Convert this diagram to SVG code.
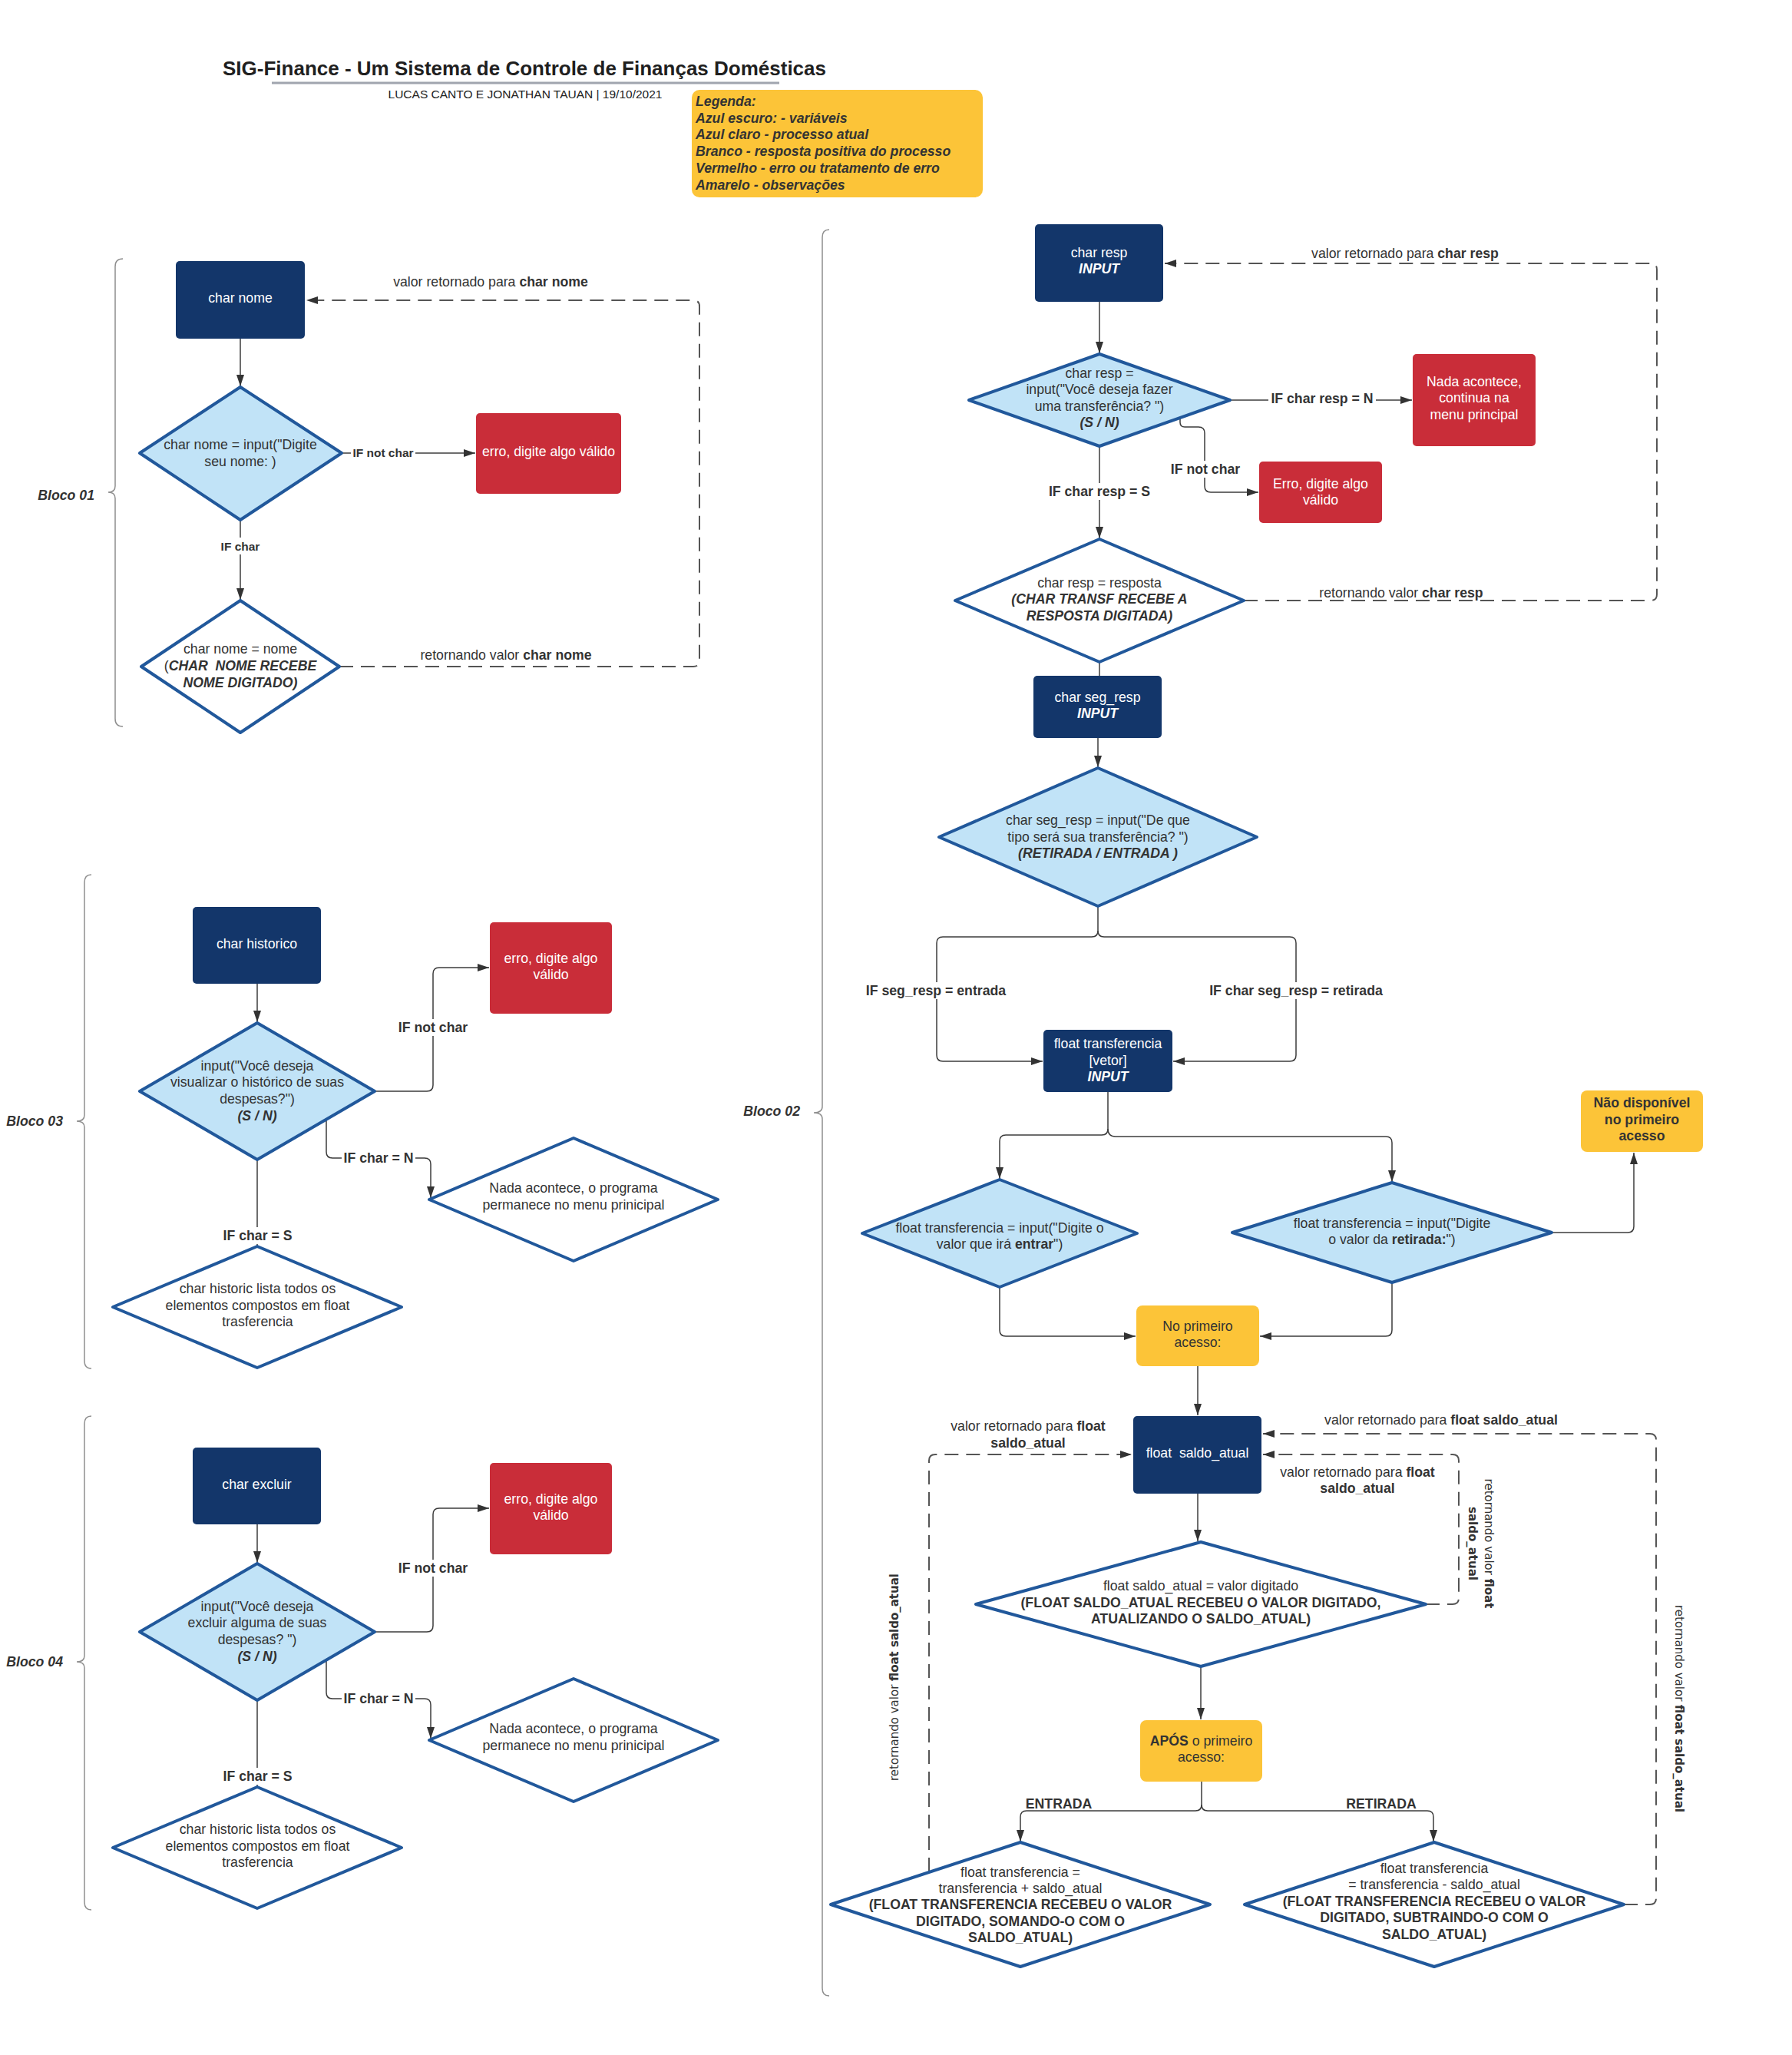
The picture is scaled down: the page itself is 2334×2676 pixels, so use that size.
<svg xmlns="http://www.w3.org/2000/svg" width="2334" height="2676" viewBox="0 0 2334 2676">
<defs>
<style>
.t{font-family:"Liberation Sans",Arial,sans-serif;font-size:17.7px;fill:#333;text-anchor:middle}
.w{fill:#fff}
.b{font-weight:bold}
.bi{font-weight:bold;font-style:italic}
.s{font-size:15.5px}
.rot{font-family:"DejaVu Sans",Verdana,sans-serif;font-size:15px;fill:#333;text-anchor:middle}
.blk{fill:#13366a}
.red{fill:#c92d39}
.yel{fill:#fcc438}
.dia{fill:#c1e3f7;stroke:#21589b;stroke-width:4;stroke-linejoin:round}
.diaw{fill:#fff;stroke:#21589b;stroke-width:4;stroke-linejoin:round}
.ln{fill:none;stroke:#3c3c3c;stroke-width:1.5}
.dash{fill:none;stroke:#555;stroke-width:2;stroke-dasharray:18 10}
.brace{fill:none;stroke:#8f8f8f;stroke-width:1.5}
.bg{fill:#fff}
</style>
<marker id="ar" markerUnits="userSpaceOnUse" markerWidth="15" markerHeight="10" refX="15" refY="5" orient="auto">
<path d="M0,0 L15,5 L0,10 z" fill="#333"/>
</marker>
</defs>
<rect width="2334" height="2676" fill="#fff"/>

<g id="header">
<text x="683" y="98" class="t b" style="font-size:26px;fill:#1f1f1f">SIG-Finance - Um Sistema de Controle de Finanças Domésticas</text>
<line x1="354" y1="108" x2="1015" y2="108" stroke="#a0a5ae" stroke-width="3"/>
<text x="684" y="128" class="t" style="font-size:15.5px;fill:#222">LUCAS CANTO E JONATHAN TAUAN  |  19/10/2021</text>
</g>

<g id="legenda">
<rect x="901" y="117" width="379" height="140" rx="10" class="yel"/>
<text class="t bi" style="text-anchor:start">
<tspan x="906" y="138">Legenda:</tspan>
<tspan x="906" y="159.7">Azul escuro: - variáveis</tspan>
<tspan x="906" y="181.4">Azul claro - processo atual</tspan>
<tspan x="906" y="203.1">Branco - resposta positiva do processo</tspan>
<tspan x="906" y="224.8">Vermelho - erro ou tratamento de erro</tspan>
<tspan x="906" y="246.5">Amarelo - observações</tspan>
</text>
</g>

<g id="braces">
<path class="brace" d="M160,337 Q150,337 150,347 V633 Q150,641 141,641 Q150,641 150,649 V936 Q150,946 160,946"/>
<path class="brace" d="M119,1139 Q110,1139 110,1149 V1452 Q110,1460 100,1460 Q110,1460 110,1468 V1772 Q110,1782 119,1782"/>
<path class="brace" d="M119,1844 Q110,1844 110,1854 V2156 Q110,2164 100,2164 Q110,2164 110,2172 V2477 Q110,2487 119,2487"/>
<path class="brace" d="M1080,299 Q1071,299 1071,309 V1441 Q1071,1449 1060,1449 Q1071,1449 1071,1457 V2589 Q1071,2599 1080,2599"/>
<text x="123" y="651" class="t bi" style="text-anchor:end">Bloco 01</text>
<text x="82" y="1466" class="t bi" style="text-anchor:end">Bloco 03</text>
<text x="82" y="2170" class="t bi" style="text-anchor:end">Bloco 04</text>
<text x="1042" y="1453" class="t bi" style="text-anchor:end">Bloco 02</text>
</g>

<g id="connectors">
<!-- Bloco 01 -->
<path class="ln" d="M313,441 V503" marker-end="url(#ar)"/>
<path class="ln" d="M445,590 H619" marker-end="url(#ar)"/>
<path class="ln" d="M313,677 V781" marker-end="url(#ar)"/>
<path class="dash" d="M442,868 H903 Q911,868 911,860 V399 Q911,391 903,391 H399" marker-end="url(#ar)"/>
<!-- Bloco 03 -->
<path class="ln" d="M335,1281 V1331" marker-end="url(#ar)"/>
<path class="ln" d="M488,1421 H556 Q564,1421 564,1413 V1268 Q564,1260 572,1260 H637" marker-end="url(#ar)"/>
<path class="ln" d="M425,1458 V1500 Q425,1508 433,1508 H553 Q561,1508 561,1516 V1560" marker-end="url(#ar)"/>
<path class="ln" d="M335,1510 V1623"/>
<!-- Bloco 04 -->
<path class="ln" d="M335,1985 V2035" marker-end="url(#ar)"/>
<path class="ln" d="M488,2125 H556 Q564,2125 564,2117 V1972 Q564,1964 572,1964 H637" marker-end="url(#ar)"/>
<path class="ln" d="M425,2162 V2204 Q425,2212 433,2212 H553 Q561,2212 561,2220 V2264" marker-end="url(#ar)"/>
<path class="ln" d="M335,2214 V2327"/>
<!-- Bloco 02 -->
<path class="ln" d="M1432,393 V460" marker-end="url(#ar)"/>
<path class="ln" d="M1602,521 H1839" marker-end="url(#ar)"/>
<path class="ln" d="M1537,544 V550 Q1537,556 1543,556 H1561 Q1569,556 1569,564 V633 Q1569,641 1577,641 H1639" marker-end="url(#ar)"/>
<path class="ln" d="M1432,581 V701" marker-end="url(#ar)"/>
<path class="dash" d="M1620,782 H2150 Q2158,782 2158,774 V351 Q2158,343 2150,343 H1517" marker-end="url(#ar)"/>
<path class="ln" d="M1432,862 V880"/>
<path class="ln" d="M1430,961 V999" marker-end="url(#ar)"/>
<path class="ln" d="M1430,1180 V1212 Q1430,1220 1422,1220 H1228 Q1220,1220 1220,1228 V1374 Q1220,1382 1228,1382 H1358" marker-end="url(#ar)"/>
<path class="ln" d="M1430,1212 Q1430,1220 1438,1220 H1680 Q1688,1220 1688,1228 V1374 Q1688,1382 1680,1382 H1528" marker-end="url(#ar)"/>
<path class="ln" d="M1443,1422 V1470 Q1443,1478 1435,1478 H1310 Q1302,1478 1302,1486 V1535" marker-end="url(#ar)"/>
<path class="ln" d="M1443,1470 Q1443,1480 1453,1480 H1805 Q1813,1480 1813,1488 V1539" marker-end="url(#ar)"/>
<path class="ln" d="M2021,1605 H2120 Q2128,1605 2128,1597 V1501" marker-end="url(#ar)"/>
<path class="ln" d="M1302,1676 V1732 Q1302,1740 1310,1740 H1479" marker-end="url(#ar)"/>
<path class="ln" d="M1813,1670 V1732 Q1813,1740 1805,1740 H1641" marker-end="url(#ar)"/>
<path class="ln" d="M1560,1779 V1843" marker-end="url(#ar)"/>
<path class="ln" d="M1560,1945 V2007" marker-end="url(#ar)"/>
<path class="ln" d="M1564,2170 V2239" marker-end="url(#ar)"/>
<path class="ln" d="M1565,2320 V2350 Q1565,2358 1557,2358 H1337 Q1329,2358 1329,2366 V2398" marker-end="url(#ar)"/>
<path class="ln" d="M1565,2350 Q1565,2358 1573,2358 H1859 Q1867,2358 1867,2366 V2398" marker-end="url(#ar)"/>
<path class="dash" d="M1210,2437 V1902 Q1210,1894 1218,1894 H1474" marker-end="url(#ar)"/>
<path class="dash" d="M1857,2089 H1892 Q1900,2089 1900,2081 V1902 Q1900,1894 1892,1894 H1645" marker-end="url(#ar)"/>
<path class="dash" d="M2115,2480 H2149 Q2157,2480 2157,2472 V1875 Q2157,1867 2149,1867 H1645" marker-end="url(#ar)"/>
</g>

<g id="connector-labels">
<rect x="457" y="580" width="84" height="20" class="bg"/>
<text x="499" y="594.5" class="t b s">IF not char</text>
<rect x="289" y="700" width="48" height="22" class="bg"/>
<text x="313" y="716.5" class="t b s">IF char</text>
<text x="639" y="373" class="t">valor retornado para <tspan class="b">char nome</tspan></text>
<text x="659" y="859" class="t">retornando valor <tspan class="b">char nome</tspan></text>

<rect x="518" y="1327" width="92" height="22" class="bg"/>
<text x="564" y="1344" class="t b">IF not char</text>
<rect x="445" y="1497" width="96" height="22" class="bg"/>
<text x="493" y="1514" class="t b">IF char = N</text>
<rect x="290" y="1598" width="92" height="22" class="bg"/>
<text x="335.5" y="1615" class="t b">IF char = S</text>

<rect x="518" y="2031" width="92" height="22" class="bg"/>
<text x="564" y="2048" class="t b">IF not char</text>
<rect x="445" y="2201" width="96" height="22" class="bg"/>
<text x="493" y="2218" class="t b">IF char = N</text>
<rect x="290" y="2302" width="92" height="22" class="bg"/>
<text x="335.5" y="2319" class="t b">IF char = S</text>

<rect x="1652" y="508" width="140" height="22" class="bg"/>
<text x="1722" y="525" class="t b">IF char resp = N</text>
<rect x="1524" y="600" width="92" height="22" class="bg"/>
<text x="1570" y="617" class="t b">IF not char</text>
<rect x="1362" y="629" width="142" height="22" class="bg"/>
<text x="1432" y="646" class="t b">IF char resp = S</text>
<text x="1830" y="336" class="t">valor retornado para <tspan class="b">char resp</tspan></text>
<text x="1825" y="778" class="t">retornando valor <tspan class="b">char resp</tspan></text>
<rect x="1126" y="1279" width="186" height="22" class="bg"/>
<text x="1219" y="1296" class="t b">IF seg_resp = entrada</text>
<rect x="1571" y="1279" width="234" height="22" class="bg"/>
<text x="1688" y="1296" class="t b">IF char seg_resp = retirada</text>
<text x="1379" y="2355" class="t b">ENTRADA</text>
<text x="1799" y="2355" class="t b">RETIRADA</text>
<text x="1877" y="1855" class="t">valor retornado para <tspan class="b">float saldo_atual</tspan></text>
<text class="t"><tspan x="1339" y="1863">valor retornado para <tspan class="b">float</tspan></tspan><tspan x="1339" y="1885" class="b">saldo_atual</tspan></text>
<text class="t"><tspan x="1768" y="1923">valor retornado para <tspan class="b">float</tspan></tspan><tspan x="1768" y="1944" class="b">saldo_atual</tspan></text>
<text class="rot" transform="translate(1170,2184) rotate(-90)">retornando valor <tspan class="b">float saldo_atual</tspan></text>
<text class="rot" transform="translate(1934,2010) rotate(90)"><tspan x="0" y="0">retornando valor <tspan class="b">float</tspan></tspan><tspan x="0" y="21" class="b">saldo_atual</tspan></text>
<text class="rot" transform="translate(2182,2225) rotate(90)">retornando valor <tspan class="b">float saldo_atual</tspan></text>
</g>

<!-- Bloco 01 nodes -->
<g id="b1-char-nome"><rect x="229" y="340" width="168" height="101" rx="5" class="blk"/><text x="313" y="394" class="t w">char nome</text></g>
<g id="b1-input"><polygon points="313,504 445,590 313,677 182,590" class="dia"/><text class="t"><tspan x="313" y="585">char nome = input("Digite</tspan><tspan x="313" y="607">seu nome: )</tspan></text></g>
<g id="b1-erro"><rect x="620" y="538" width="189" height="105" rx="5" class="red"/><text x="714.5" y="594" class="t w">erro, digite algo válido</text></g>
<g id="b1-nome"><polygon points="313,782 442,868 313,954 184,868" class="diaw"/><text class="t"><tspan x="313" y="851">char nome = nome</tspan><tspan x="313" y="873">(<tspan class="bi">CHAR&#160; NOME RECEBE</tspan></tspan><tspan x="313" y="895" class="bi">NOME DIGITADO)</tspan></text></g>

<!-- Bloco 03 nodes -->
<g id="b3-char-historico"><rect x="251" y="1181" width="167" height="100" rx="5" class="blk"/><text x="334.5" y="1235" class="t w">char historico</text></g>
<g id="b3-input"><polygon points="335,1332 488,1421 335,1510 182,1421" class="dia"/><text class="t"><tspan x="335" y="1394">input("Você deseja</tspan><tspan x="335" y="1415">visualizar o histórico de suas</tspan><tspan x="335" y="1437">despesas?")</tspan><tspan x="335" y="1459" class="bi">(S / N)</tspan></text></g>
<g id="b3-erro"><rect x="638" y="1201" width="159" height="119" rx="5" class="red"/><text class="t w"><tspan x="717.5" y="1254">erro, digite algo</tspan><tspan x="717.5" y="1275">válido</tspan></text></g>
<g id="b3-nada"><polygon points="747,1482 935,1562 747,1642 559,1562" class="diaw"/><text class="t"><tspan x="747" y="1553">Nada acontece, o programa</tspan><tspan x="747" y="1575">permanece no menu prinicipal</tspan></text></g>
<g id="b3-lista"><polygon points="335,1623 523,1702 335,1781 147,1702" class="diaw"/><text class="t"><tspan x="335.5" y="1684">char historic lista todos os</tspan><tspan x="335.5" y="1706">elementos compostos em float</tspan><tspan x="335.5" y="1727">trasferencia</tspan></text></g>

<!-- Bloco 04 nodes -->
<g id="b4-char-excluir"><rect x="251" y="1885" width="167" height="100" rx="5" class="blk"/><text x="334.5" y="1939" class="t w">char excluir</text></g>
<g id="b4-input"><polygon points="335,2036 488,2125 335,2214 182,2125" class="dia"/><text class="t"><tspan x="335" y="2098">input("Você deseja</tspan><tspan x="335" y="2119">excluir alguma de suas</tspan><tspan x="335" y="2141">despesas? ")</tspan><tspan x="335" y="2163" class="bi">(S / N)</tspan></text></g>
<g id="b4-erro"><rect x="638" y="1905" width="159" height="119" rx="5" class="red"/><text class="t w"><tspan x="717.5" y="1958">erro, digite algo</tspan><tspan x="717.5" y="1979">válido</tspan></text></g>
<g id="b4-nada"><polygon points="747,2186 935,2266 747,2346 559,2266" class="diaw"/><text class="t"><tspan x="747" y="2257">Nada acontece, o programa</tspan><tspan x="747" y="2279">permanece no menu prinicipal</tspan></text></g>
<g id="b4-lista"><polygon points="335,2327 523,2406 335,2485 147,2406" class="diaw"/><text class="t"><tspan x="335.5" y="2388">char historic lista todos os</tspan><tspan x="335.5" y="2410">elementos compostos em float</tspan><tspan x="335.5" y="2431">trasferencia</tspan></text></g>

<!-- Bloco 02 nodes -->
<g id="b2-char-resp"><rect x="1348" y="292" width="167" height="101" rx="5" class="blk"/><text class="t w"><tspan x="1431.5" y="335">char resp</tspan><tspan x="1431.5" y="356" class="bi">INPUT</tspan></text></g>
<g id="b2-resp-input"><polygon points="1432,461 1602,521 1432,581 1262,521" class="dia"/><text class="t"><tspan x="1432" y="492">char resp =</tspan><tspan x="1432" y="513">input("Você deseja fazer</tspan><tspan x="1432" y="535">uma transferência? ")</tspan><tspan x="1432" y="556" class="bi">(S / N)</tspan></text></g>
<g id="b2-nada"><rect x="1840" y="461" width="160" height="120" rx="5" class="red"/><text class="t w"><tspan x="1920" y="503">Nada acontece,</tspan><tspan x="1920" y="524">continua na</tspan><tspan x="1920" y="546">menu principal</tspan></text></g>
<g id="b2-erro"><rect x="1640" y="601" width="160" height="80" rx="5" class="red"/><text class="t w"><tspan x="1720" y="636">Erro, digite algo</tspan><tspan x="1720" y="657">válido</tspan></text></g>
<g id="b2-resposta"><polygon points="1432,702 1620,782 1432,862 1244,782" class="diaw"/><text class="t"><tspan x="1432" y="765">char resp = resposta</tspan><tspan x="1432" y="786" class="bi">(CHAR TRANSF RECEBE A</tspan><tspan x="1432" y="808" class="bi">RESPOSTA DIGITADA)</tspan></text></g>
<g id="b2-seg-resp"><rect x="1346" y="880" width="167" height="81" rx="5" class="blk"/><text class="t w"><tspan x="1429.5" y="914">char seg_resp</tspan><tspan x="1429.5" y="935" class="bi">INPUT</tspan></text></g>
<g id="b2-seg-input"><polygon points="1430,1000 1637,1090 1430,1180 1223,1090" class="dia"/><text class="t"><tspan x="1430" y="1074">char seg_resp = input("De que</tspan><tspan x="1430" y="1096">tipo será sua transferência? ")</tspan><tspan x="1430" y="1117" class="bi">(RETIRADA / ENTRADA )</tspan></text></g>
<g id="b2-float-transf"><rect x="1359" y="1341" width="168" height="81" rx="5" class="blk"/><text class="t w"><tspan x="1443" y="1365">float transferencia</tspan><tspan x="1443" y="1387">[vetor]</tspan><tspan x="1443" y="1408" class="bi">INPUT</tspan></text></g>
<g id="b2-entrar"><polygon points="1302,1536 1481,1606 1302,1676 1123,1606" class="dia"/><text class="t"><tspan x="1302" y="1605">float transferencia = input("Digite o</tspan><tspan x="1302" y="1626">valor que irá <tspan class="b">entrar</tspan>")</tspan></text></g>
<g id="b2-retirada"><polygon points="1813,1540 2021,1605 1813,1670 1605,1605" class="dia"/><text class="t"><tspan x="1813" y="1599">float transferencia = input("Digite</tspan><tspan x="1813" y="1620">o valor da <tspan class="b">retirada:</tspan>")</tspan></text></g>
<g id="b2-nao-disponivel"><rect x="2059" y="1420" width="159" height="80" rx="8" class="yel"/><text class="t b"><tspan x="2138.5" y="1442">Não disponível</tspan><tspan x="2138.5" y="1464">no primeiro</tspan><tspan x="2138.5" y="1485">acesso</tspan></text></g>
<g id="b2-no-primeiro"><rect x="1480" y="1700" width="160" height="79" rx="8" class="yel"/><text class="t"><tspan x="1560" y="1733">No primeiro</tspan><tspan x="1560" y="1754">acesso:</tspan></text></g>
<g id="b2-saldo-atual"><rect x="1476" y="1844" width="167" height="101" rx="5" class="blk"/><text x="1559.5" y="1898" class="t w">float&#160; saldo_atual</text></g>
<g id="b2-saldo-input"><polygon points="1564,2008 1857,2089 1564,2170 1271,2089" class="diaw"/><text class="t"><tspan x="1564" y="2071">float saldo_atual = valor digitado</tspan><tspan x="1564" y="2093" class="b">(FLOAT SALDO_ATUAL RECEBEU O VALOR DIGITADO,</tspan><tspan x="1564" y="2114" class="b">ATUALIZANDO O SALDO_ATUAL)</tspan></text></g>
<g id="b2-apos"><rect x="1485" y="2240" width="159" height="80" rx="8" class="yel"/><text class="t"><tspan x="1564.5" y="2273"><tspan class="b">APÓS</tspan> o primeiro</tspan><tspan x="1564.5" y="2294">acesso:</tspan></text></g>
<g id="b2-soma"><polygon points="1329,2399 1576,2480 1329,2561 1082,2480" class="diaw"/><text class="t"><tspan x="1329" y="2444">float transferencia =</tspan><tspan x="1329" y="2465">transferencia + saldo_atual</tspan><tspan x="1329" y="2486" class="b">(FLOAT TRANSFERENCIA RECEBEU O VALOR</tspan><tspan x="1329" y="2508" class="b">DIGITADO, SOMANDO-O COM O</tspan><tspan x="1329" y="2529" class="b">SALDO_ATUAL)</tspan></text></g>
<g id="b2-subtrai"><polygon points="1868,2399 2115,2480 1868,2561 1621,2480" class="diaw"/><text class="t"><tspan x="1868" y="2439">float transferencia</tspan><tspan x="1868" y="2460">= transferencia - saldo_atual</tspan><tspan x="1868" y="2482" class="b">(FLOAT TRANSFERENCIA RECEBEU O VALOR</tspan><tspan x="1868" y="2503" class="b">DIGITADO, SUBTRAINDO-O COM O</tspan><tspan x="1868" y="2525" class="b">SALDO_ATUAL)</tspan></text></g>
</svg>
